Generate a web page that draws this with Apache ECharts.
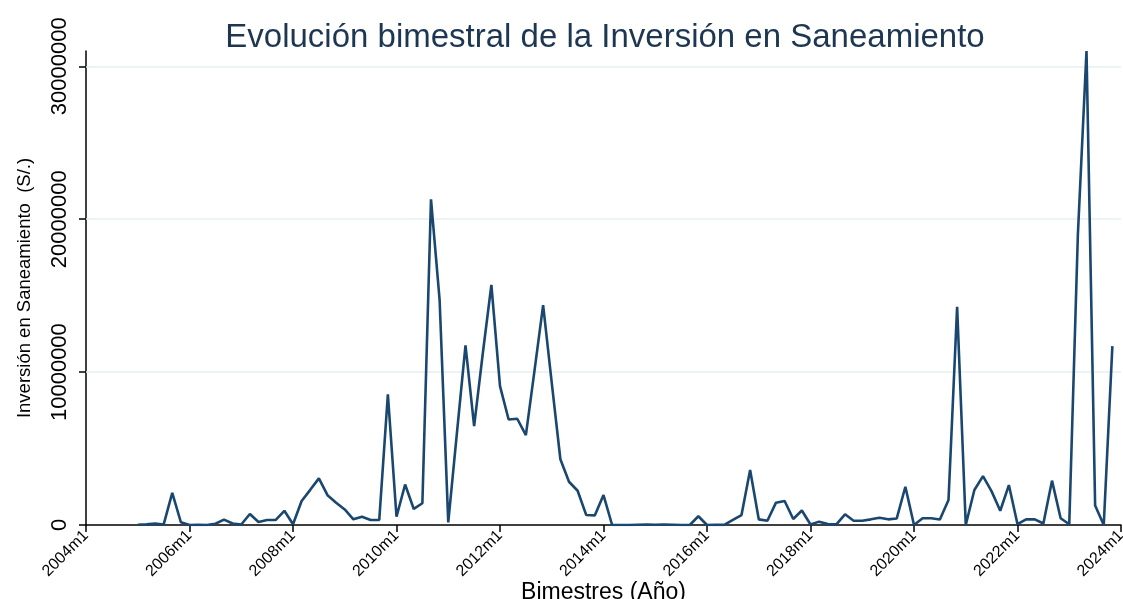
<!DOCTYPE html>
<html>
<head>
<meta charset="utf-8">
<title>Inversión en Saneamiento</title>
<script src="https://cdn.jsdelivr.net/npm/echarts@6/dist/echarts.min.js"></script>
<style>
    html, body { margin: 0; padding: 0; background: #fff; }
    #chart { width: 1123px; height: 599px; }
</style>
</head>
<body>
<div id="chart"></div>
<script>
    // Inversión por bimestre, desde 2005m1 hasta 2023m11 (S/.)
    var firstYear = 2004;
    var lastYear = 2024;
    var startIndex = 6; // 2005m1 = sexto bimestre desde 2004m1
    var inversion = [
        20000, 50000, 100000, 30000, 2100000, 180000,            // 2005
        0, 20000, 0, 80000, 350000, 100000,                      // 2006
        30000, 720000, 200000, 330000, 330000, 930000,           // 2007
        50000, 1570000, 2300000, 3050000, 1950000, 1460000,      // 2008
        1020000, 370000, 540000, 330000, 330000, 8550000,        // 2009
        540000, 2650000, 1050000, 1420000, 21300000, 14700000,   // 2010
        170000, 6000000, 11750000, 6470000, 11200000, 15700000,  // 2011
        9080000, 6900000, 6950000, 5880000, 10100000, 14380000,  // 2012
        9300000, 4300000, 2830000, 2240000, 650000, 630000,      // 2013
        1960000, 0, 0, 0, 20000, 30000,                          // 2014
        20000, 30000, 20000, 0, 0, 570000,                       // 2015
        0, 10000, 10000, 330000, 650000, 3600000,                // 2016
        370000, 280000, 1460000, 1570000, 390000, 950000,        // 2017
        30000, 220000, 60000, 40000, 700000, 280000,             // 2018
        280000, 370000, 480000, 370000, 430000, 2500000,         // 2019
        0, 440000, 440000, 360000, 1630000, 14270000,            // 2020
        0, 2290000, 3200000, 2200000, 930000, 2610000,           // 2021
        50000, 370000, 370000, 100000, 2900000, 440000,          // 2022
        50000, 19000000, 31000000, 1280000, 0, 11700000          // 2023
    ];
    var yTicks = [0, 10000000, 20000000, 30000000];

    // etiquetas bimestrales 2004m1 ... 2024m1
    var categories = [];
    for (var y = firstYear; y <= lastYear; y++) {
        for (var b = 0; b < 6; b++) {
            if (y === lastYear && b > 0) break;
            categories.push(y + 'm' + (b * 2 + 1));
        }
    }

    var seriesData = categories.map(function (c, i) {
        var j = i - startIndex;
        return (j >= 0 && j < inversion.length) ? inversion[j] : null;
    });

    var font = '"Liberation Sans", Arial, sans-serif';

    var chart = echarts.init(document.getElementById('chart'));

    var option = {
        backgroundColor: '#ffffff',
        animation: false,
        title: {
            text: 'Evolución bimestral de la Inversión en Saneamiento',
            left: 600,
            textAlign: 'center',
            top: 16,
            textStyle: {
                fontFamily: font,
                fontSize: 33,
                fontWeight: 'normal',
                color: '#1d3652'
            }
        },
        grid: {
            left: 86,
            right: 2,
            top: 51,
            bottom: 74,
            outerBoundsMode: 'none'
        },
        xAxis: {
            type: 'category',
            data: categories,
            boundaryGap: false,
            name: 'Bimestres (Año)',
            nameLocation: 'middle',
            nameGap: 56,
            nameMoveOverlap: false,
            nameTextStyle: {
                fontFamily: font,
                fontSize: 23,
                color: '#000'
            },
            axisLine: { lineStyle: { color: '#000', width: 1.5 } },
            axisTick: { interval: 11, length: 7, lineStyle: { color: '#000', width: 1.5 } },
            axisLabel: {
                interval: 11,
                rotate: 45,
                fontFamily: font,
                fontSize: 16,
                color: '#000',
                margin: 8
            },
            splitLine: { show: false }
        },
        yAxis: {
            type: 'value',
            min: 0,
            max: 31000000,
            name: 'Inversión en Saneamiento  (S/.)',
            nameLocation: 'middle',
            nameGap: 52,
            nameTextStyle: {
                fontFamily: font,
                fontSize: 18.5,
                color: '#000'
            },
            axisLine: { show: true, lineStyle: { color: '#000', width: 1.5 } },
            axisTick: { show: true, customValues: yTicks, length: 7, lineStyle: { color: '#000', width: 1.5 } },
            axisLabel: {
                customValues: yTicks,
                rotate: 90,
                fontFamily: font,
                fontSize: 22,
                color: '#000',
                margin: 15,
                formatter: function (v) {
                    return String(v);
                }
            },
            splitLine: { show: false }
        },
        series: [
            {
                name: 'Inversión',
                type: 'line',
                data: seriesData,
                showSymbol: false,
                symbol: 'none',
                connectNulls: false,
                lineStyle: { color: '#1a476f', width: 2.6 },
                markLine: {
                    silent: true,
                    symbol: 'none',
                    label: { show: false },
                    lineStyle: { color: '#e6eff1', width: 1.5, type: 'solid' },
                    data: yTicks.slice(1).map(function (v) {
                        return { yAxis: v };
                    }),
                    z: 1
                },
                z: 3
            }
        ]
    };

    chart.clear();
    chart.setOption(option);
</script>
</body>
</html>
